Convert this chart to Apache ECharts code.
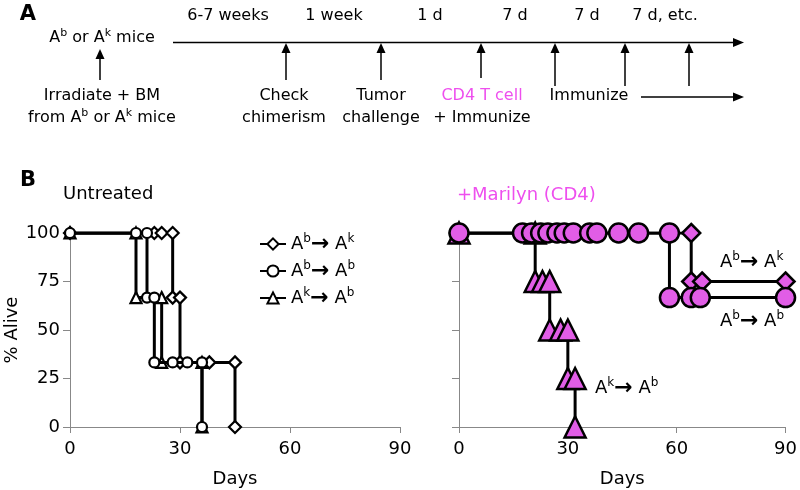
<!DOCTYPE html>
<html><head><meta charset="utf-8">
<script src="https://cdn.jsdelivr.net/npm/echarts@6/dist/echarts.min.js"></script>
<style>html,body{margin:0;padding:0;background:#fff}#c{width:800px;height:490px}</style>
</head><body><div id="c"></div>
<script>
// ---------- data ----------
const intervalLabels = ['6-7 weeks', '1 week', '1 d', '7 d', '7 d', '7 d, etc.'];
const startLabel = 'A{s|b} or A{s|k} mice';
const eventTop = ['Irradiate + BM', 'Check', 'Tumor', 'CD4 T cell', 'Immunize'];
const eventBottom = ['from A{s|b} or A{s|k} mice', 'chimerism', 'challenge', '+ Immunize', ''];
const eventTopMagenta = [false, false, false, true, false];

const xTicks = [0, 30, 60, 90];
const yTicks = [0, 25, 50, 75, 100];

// Untreated
const untAbAkDays  = [0, 23, 25, 28, 28, 30, 30, 38, 45, 45];
const untAbAkAlive = [100, 100, 100, 100, 66.7, 66.7, 33.3, 33.3, 33.3, 0];
const untAbAbDays  = [0, 18, 21, 21, 23, 23, 28, 32, 36, 36];
const untAbAbAlive = [100, 100, 100, 66.7, 66.7, 33.3, 33.3, 33.3, 33.3, 0];
const untAkAbDays  = [0, 18, 18, 25, 25, 36, 36];
const untAkAbAlive = [100, 100, 66.7, 66.7, 33.3, 33.3, 0];

// +Marilyn (CD4)
const marAbAkDays  = [0, 64, 64, 67, 90];
const marAbAkAlive = [100, 100, 75, 75, 75];
const marAbAbDays  = [0, 17.5, 20, 22.5, 24.5, 27, 29, 31.5, 36, 38, 44, 49.5, 58, 58, 64, 66.5, 90];
const marAbAbAlive = [100, 100, 100, 100, 100, 100, 100, 100, 100, 100, 100, 100, 100, 66.7, 66.7, 66.7, 66.7];
const marAkAbDays  = [0, 21, 21, 23, 25, 25, 28, 30, 30, 32, 32];
const marAkAbAlive = [100, 100, 75, 75, 75, 50, 50, 50, 25, 25, 0];

const groupLabels = {
  'Ab→Ak': '{a|A}{s|b}{r|→} {a|A}{s|k}',
  'Ab→Ab': '{a|A}{s|b}{r|→} {a|A}{s|b}',
  'Ak→Ab': '{a|A}{s|k}{r|→} {a|A}{s|b}'
};

// ---------- styles ----------
const FONT = 'DejaVu Sans';
const MAG = '#E15DE6';
const MAGTXT = '#EE4FEE';
const zip = (a, b) => a.map((v, i) => [v, b[i]]);

// rich styles for echarts components (legend)
const richB = {
  a: {fontFamily: FONT, fontSize: 18, color: '#000', lineHeight: 22},
  s: {fontFamily: FONT, fontSize: 12, color: '#000', lineHeight: 10, verticalAlign: 'top'},
  r: {fontFamily: FONT, fontSize: 22, fontWeight: 'bold', color: '#000', lineHeight: 22}
};
// rich styles for raw graphic text (zrender uses fill)
const richBG = {
  a: {fontFamily: FONT, fontSize: 18, fill: '#000', lineHeight: 22},
  s: {fontFamily: FONT, fontSize: 12, fill: '#000', lineHeight: 10, verticalAlign: 'top'},
  r: {fontFamily: FONT, fontSize: 22, fontWeight: 'bold', fill: '#000', lineHeight: 22}
};
const richA = {
  s: {fontFamily: FONT, fontSize: 11, fill: '#000', lineHeight: 9, verticalAlign: 'top'}
};

// ---------- panel A graphics ----------
const g = [];
function txt(x, y, text, opt) {
  opt = opt || {};
  g.push({type: 'text', x: x, y: y, style: Object.assign({
    text: text, fill: opt.fill || '#000', font: (opt.size || 16) + 'px "' + FONT + '"',
    align: 'center', verticalAlign: 'middle', rich: richA, lineHeight: 20
  }, opt.style || {})});
}
function upArrow(x, yTip, yBottom) {
  g.push({type: 'line', shape: {x1: x, y1: yBottom, x2: x, y2: yTip + 8}, style: {stroke: '#000', lineWidth: 1.5}});
  g.push({type: 'polygon', shape: {points: [[x, yTip], [x - 4.5, yTip + 10], [x + 4.5, yTip + 10]]}, style: {fill: '#000'}});
}
function rightArrow(x1, x2, y) {
  g.push({type: 'line', shape: {x1: x1, y1: y, x2: x2 - 8, y2: y}, style: {stroke: '#000', lineWidth: 1.5}});
  g.push({type: 'polygon', shape: {points: [[x2, y], [x2 - 11, y - 4.5], [x2 - 11, y + 4.5]]}, style: {fill: '#000'}});
}
txt(28, 15, 'A', {style: {font: 'bold 21px "' + FONT + '"'}});
txt(28, 181, 'B', {style: {font: 'bold 21px "' + FONT + '"'}});
const intervalX = [228, 334, 430, 515, 587, 665];
intervalLabels.forEach((t, i) => txt(intervalX[i], 16, t));
txt(102, 38, startLabel);
rightArrow(173, 744, 42.5);
const arrowX = [100, 286, 381, 481, 555, 625, 689];
const arrowTip = [49, 43, 43, 43, 43, 43, 43];
const arrowBottom = [80, 80, 80, 78, 86, 86, 86];
arrowX.forEach((x, i) => upArrow(x, arrowTip[i], arrowBottom[i]));
rightArrow(641, 744, 97);
const eventX = [102, 284, 381, 482, 589];
eventTop.forEach((t, i) => txt(eventX[i], 96, t, {fill: eventTopMagenta[i] ? MAGTXT : '#000'}));
eventBottom.forEach((t, i) => { if (t) txt(eventX[i], 118, t); });

// panel B titles and annotations
g.push({type: 'text', x: 63, y: 194, style: {text: 'Untreated', fill: '#000', font: '18px "' + FONT + '"', align: 'left', verticalAlign: 'middle'}});
g.push({type: 'text', x: 457, y: 195, style: {text: '+Marilyn (CD4)', fill: MAGTXT, font: '18px "' + FONT + '"', align: 'left', verticalAlign: 'middle'}});
function ann(x, y, key) {
  g.push({type: 'text', x: x, y: y, z: 10, style: {text: groupLabels[key], rich: richBG, align: 'left', verticalAlign: 'middle', fill: '#000', font: '18px "' + FONT + '"'}});
}
ann(720, 262, 'Ab→Ak');
ann(720, 321, 'Ab→Ab');
ann(595, 388, 'Ak→Ab');

// ---------- axes ----------
function xAx(gi) {
  return {
    type: 'value', gridIndex: gi, min: 0, max: 90, interval: 30,
    name: 'Days', nameLocation: 'middle', nameGap: 43,
    nameTextStyle: {fontFamily: FONT, fontSize: 18, color: '#000'},
    axisLine: {show: true, lineStyle: {color: '#888', width: 1}},
    axisTick: {show: true, length: 6, lineStyle: {color: '#888'}},
    axisLabel: {fontFamily: FONT, fontSize: 18, color: '#000', margin: 13,
      formatter: v => xTicks.includes(v) ? String(v) : ''},
    splitLine: {show: false}
  };
}
function yAx(gi, labels) {
  return {
    type: 'value', gridIndex: gi, min: 0, max: 100, interval: 25,
    name: labels ? '% Alive' : '', nameLocation: 'middle', nameGap: 47, nameRotate: 90,
    nameTextStyle: {fontFamily: FONT, fontSize: 18, color: '#000'},
    axisLine: {show: true, lineStyle: {color: '#888', width: 1}},
    axisTick: {show: true, length: 7, lineStyle: {color: '#888'}},
    axisLabel: {show: labels, fontFamily: FONT, fontSize: 18, color: '#000', margin: 10,
      formatter: v => yTicks.includes(v) ? String(v) : ''},
    splitLine: {show: false}
  };
}

function ser(name, idx, days, alive, symbol, size, fill, bw, z) {
  return {
    name: name, type: 'line', xAxisIndex: idx, yAxisIndex: idx, z: z,
    data: zip(days, alive), symbol: symbol, symbolSize: size, showAllSymbol: true,
    lineStyle: {color: '#000', width: 3},
    itemStyle: {color: fill, borderColor: '#000', borderWidth: bw, opacity: 1},
    emphasis: {disabled: true}, animation: false
  };
}

const series = [
  ser('Ab→Ak', 0, untAbAkDays, untAbAkAlive, 'diamond', 12, '#fff', 2.2, 2),
  ser('Ak→Ab', 0, untAkAbDays, untAkAbAlive, 'triangle', 11, '#fff', 2.2, 3),
  ser('Ab→Ab', 0, untAbAbDays, untAbAbAlive, 'circle', 10, '#fff', 2.2, 4),
  ser('CD4 Ab→Ak', 1, marAbAkDays, marAbAkAlive, 'diamond', 18, MAG, 2.5, 2),
  ser('CD4 Ak→Ab', 1, marAkAbDays, marAkAbAlive, 'triangle', 21, MAG, 2.5, 3),
  ser('CD4 Ab→Ab', 1, marAbAbDays, marAbAbAlive, 'circle', 19, MAG, 2.5, 4)
];

const chart = echarts.init(document.getElementById('c'), null, {renderer: 'canvas'});
chart.setOption({
  animation: false,
  backgroundColor: '#fff',
  grid: [
    {left: 70, top: 233, width: 330, height: 194},
    {left: 459, top: 233, width: 329, height: 194}
  ],
  xAxis: [xAx(0), xAx(1)],
  yAxis: [yAx(0, true), yAx(1, false)],
  legend: {
    data: ['Ab→Ak', 'Ab→Ab', 'Ak→Ab'],
    orient: 'vertical', left: 254, top: 228,
    itemWidth: 26, itemHeight: 14, itemGap: 5,
    selectedMode: false,
    formatter: n => groupLabels[n],
    textStyle: {rich: richB, fontFamily: FONT, fontSize: 18, color: '#000'}
  },
  graphic: g,
  series: series
});
</script></body></html>
